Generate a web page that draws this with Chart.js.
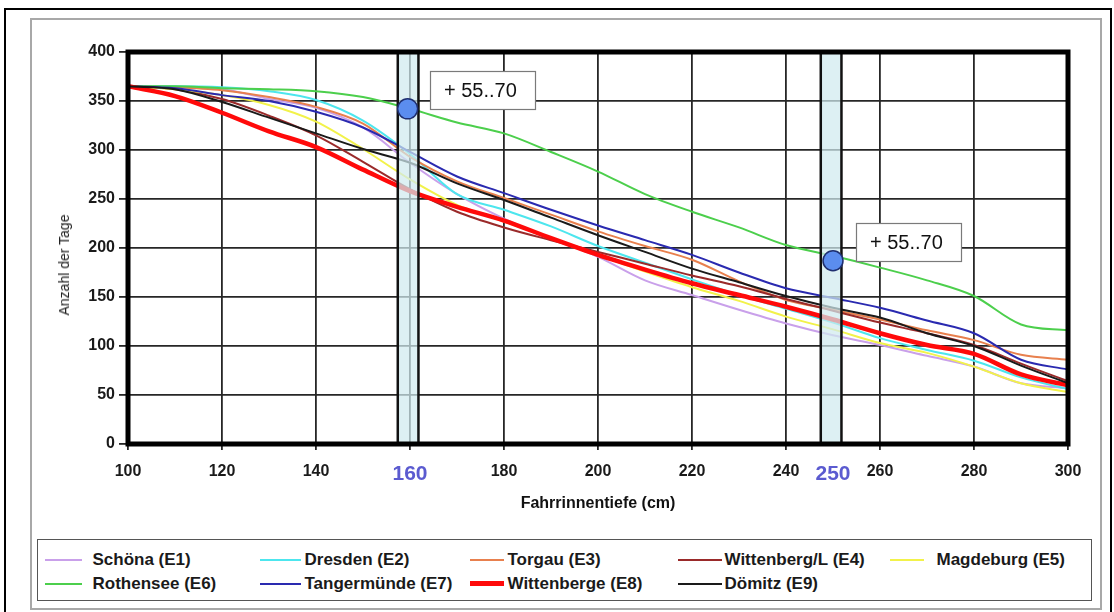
<!DOCTYPE html>
<html>
<head>
<meta charset="utf-8">
<script src="https://cdn.jsdelivr.net/npm/chart.js@4.4.1/dist/chart.umd.min.js"></script>
<style>
  html, body { margin: 0; padding: 0; background: #fff; }
  body { width: 1114px; height: 612px; position: relative; overflow: hidden; font-family: "Liberation Sans", Arial, sans-serif; }
  #outer { position: absolute; left: 4px; top: 8px; width: 1108px; height: 612px; border: 2px solid #000; box-sizing: border-box; }
  #frame { position: absolute; left: 30px; top: 18px; width: 1072px; height: 592px; border: 2px solid #a8a8a8; box-sizing: border-box; }
  #wrap { position: absolute; left: 32px; top: 20px; width: 1066px; height: 500px; }
  #ytitle { position: absolute; left: 64px; top: 265px; transform: translate(-50%, -50%) rotate(-90deg); font-size: 14px; color: #222; white-space: nowrap; }
  #legend { position: absolute; left: 37px; top: 539px; width: 1055px; height: 62px; border: 1.5px solid #555; box-sizing: border-box; }
  .item { position: absolute; height: 20px; line-height: 20px; font-weight: bold; font-size: 17px; color: #1a1a1a; white-space: nowrap; }
  .swatch { position: absolute; top: 50%; }
  .label { position: absolute; top: 0; }
</style>
</head>
<body>
<div id="outer"></div>
<div id="frame"></div>
<div id="wrap"><canvas id="chart"></canvas></div>
<div id="ytitle">Anzahl der Tage</div>
<div id="legend"></div>
<script>
// Fahrrinnentiefe (cm) on the x axis, Anzahl der Tage per station
const depthsCm = [100, 110, 120, 130, 140, 150, 160, 170, 180, 190, 200, 210, 220, 230, 240, 250, 260, 270, 280, 290, 300];

const schoena      = [365, 364, 362, 352, 343, 323, 287, 255, 230, 210, 191, 167, 152, 137, 123, 111, 101, 90, 79, 62, 57];
const dresden      = [365, 365, 364, 360, 351, 330, 296, 255, 239, 222, 202, 185, 168, 152, 138, 124, 108, 96, 85, 68, 56];
const torgau       = [365, 364, 361, 354, 344, 327, 293, 268, 251, 234, 217, 202, 188, 166, 147, 137, 127, 116, 106, 91, 86];
const wittenbergL  = [365, 362, 352, 335, 315, 288, 260, 237, 221, 208, 196, 184, 172, 161, 148, 136, 124, 113, 101, 82, 64];
const magdeburg    = [365, 362, 356, 346, 329, 301, 270, 244, 227, 210, 193, 176, 160, 146, 130, 117, 103, 93, 79, 62, 53];
const rothensee    = [365, 365, 363, 362, 360, 354, 342, 328, 317, 298, 278, 255, 237, 221, 203, 192, 180, 167, 151, 122, 116];
const tangermuende = [365, 363, 356, 350, 339, 323, 298, 273, 256, 239, 223, 208, 193, 175, 159, 149, 139, 126, 113, 86, 76];
const wittenberge  = [365, 355, 338, 319, 303, 280, 258, 242, 228, 210, 193, 178, 164, 152, 140, 127, 113, 101, 92, 71, 60];
const doemitz      = [365, 362, 349, 333, 317, 301, 287, 266, 249, 231, 213, 196, 179, 165, 151, 139, 129, 113, 100, 80, 62];

const stationNames = ["Schöna (E1)", "Dresden (E2)", "Torgau (E3)", "Wittenberg/L (E4)", "Magdeburg (E5)",
  "Rothensee (E6)", "Tangermünde (E7)", "Wittenberge (E8)", "Dömitz (E9)"];
const stationValues = [schoena, dresden, torgau, wittenbergL, magdeburg, rothensee, tangermuende, wittenberge, doemitz];

const xTicks = [100, 120, 140, 160, 180, 200, 220, 240, 250, 260, 280, 300];
const highlightTicks = [160, 250];
const bandFrom = [157.4, 247.4];
const bandTo = [161.8, 251.8];

const markerDepth = [159.5, 250];
const markerDays = [342, 187];
const markerText = ["+ 55..70", "+ 55..70"];

// styles
const lineColors = ["#c9a0ea", "#4de6ee", "#e8804e", "#9a2a2a", "#f2f24a", "#4ccf4c", "#2a2ab0", "#ff0a0a", "#1a1a1a"];
const lineWidths = [2, 2, 2, 2, 2, 2, 2, 4.5, 2];

const el = (id) => document.getElementById(id);
const isHighlight = (c) => !!(c && c.tick && highlightTicks.includes(c.tick.value));

function buildLegend() {
  const lineStarts = [45, 260, 470, 678, 890];
  const lineEnds = [82, 301, 504, 722, 924];
  const textStarts = [93, 305, 508, 725, 937];
  const rowCenters = [560, 584];
  const box = el("legend");
  stationNames.forEach((name, i) => {
    const row = i < 5 ? 0 : 1;
    const col = i < 5 ? i : i - 5;
    const item = document.createElement("div");
    item.className = "item";
    item.style.left = "0px";
    item.style.top = (rowCenters[row] - 10 - 540.5) + "px";
    const sw = document.createElement("span");
    sw.className = "swatch";
    sw.style.left = (lineStarts[col] - 38.5) + "px";
    sw.style.width = (lineEnds[col] - lineStarts[col]) + "px";
    sw.style.height = lineWidths[i] + "px";
    sw.style.marginTop = (-lineWidths[i] / 2) + "px";
    sw.style.background = lineColors[i];
    const tx = document.createElement("span");
    tx.className = "label";
    tx.style.left = (textStarts[col] - 38.5) + "px";
    tx.textContent = name;
    item.appendChild(sw);
    item.appendChild(tx);
    box.appendChild(item);
  });
}

const decorPlugin = {
  id: "decor",
  beforeDatasetDraw(chart, args) {
    if (chart.data.datasets[args.index].type !== "scatter") return;
    const { ctx, chartArea: a, scales: { x } } = chart;
    ctx.save();
    bandFrom.forEach((from, i) => {
      const l = x.getPixelForValue(from);
      const r = x.getPixelForValue(bandTo[i]);
      ctx.fillStyle = "rgba(208, 234, 238, 0.72)";
      ctx.fillRect(l, a.top, r - l, a.bottom - a.top);
      ctx.strokeStyle = "#111";
      ctx.lineWidth = 2.5;
      ctx.beginPath();
      ctx.moveTo(l, a.top); ctx.lineTo(l, a.bottom);
      ctx.moveTo(r, a.top); ctx.lineTo(r, a.bottom);
      ctx.stroke();
    });
    ctx.restore();
  },
  afterDraw(chart) {
    const { ctx, chartArea: a } = chart;
    ctx.save();
    ctx.strokeStyle = "#000";
    ctx.lineWidth = 5;
    ctx.strokeRect(a.left, a.top, a.right - a.left, a.bottom - a.top);

    const idx = chart.data.datasets.findIndex((d) => d.type === "scatter");
    const meta = chart.getDatasetMeta(idx);
    meta.data.forEach((pt, i) => {
      const bx = Math.round(pt.x + 22.5);
      const by = Math.round(pt.y - 38);
      ctx.fillStyle = "#fff";
      ctx.fillRect(bx, by, 105, 38);
      ctx.strokeStyle = "#7a7a7a";
      ctx.lineWidth = 1.2;
      ctx.strokeRect(bx + 0.5, by + 0.5, 105, 38);
      ctx.fillStyle = "#111";
      ctx.font = '20px "Liberation Sans", Arial, sans-serif';
      ctx.textBaseline = "middle";
      ctx.fillText(markerText[i], bx + 14, by + 20);
    });
    ctx.restore();
  }
};

buildLegend();

Chart.defaults.font.family = '"Liberation Sans", Arial, sans-serif';

const datasets = stationValues.map((vals, i) => ({
  type: "line",
  label: stationNames[i],
  data: vals.map((y, j) => ({ x: depthsCm[j], y })),
  borderColor: lineColors[i],
  borderWidth: lineWidths[i],
  pointRadius: 0,
  cubicInterpolationMode: "monotone",
  order: 20 - i
}));

datasets.push({
  type: "scatter",
  label: "Marker",
  data: markerDepth.map((x, i) => ({ x, y: markerDays[i] })),
  pointRadius: 10,
  backgroundColor: "#5b8def",
  borderColor: "#1f2f70",
  borderWidth: 1.5,
  order: 0
});

new Chart(el("chart"), {
  data: { datasets },
  plugins: [decorPlugin],
  options: {
    responsive: true,
    maintainAspectRatio: false,
    animation: false,
    layout: { padding: { top: 32, right: 30, left: 0, bottom: 0 } },
    plugins: { legend: { display: false }, tooltip: { enabled: false } },
    scales: {
      x: {
        type: "linear",
        min: 100,
        max: 300,
        afterBuildTicks: (axis) => { axis.ticks = xTicks.map((v) => ({ value: v })); },
        afterFit: (scale) => { scale.height = 76; },
        border: { display: false },
        grid: {
          color: (c) => (c.tick && c.tick.value === 250 ? "rgba(0,0,0,0)" : "#262626"),
          lineWidth: 1.8,
          tickLength: 6
        },
        ticks: {
          autoSkip: false,
          maxRotation: 0,
          padding: 12,
          color: (c) => (isHighlight(c) ? "#5b5bd0" : "#1a1a1a"),
          font: (c) => (isHighlight(c) ? { size: 21, weight: "bold" } : { size: 16, weight: "bold" })
        },
        title: {
          display: true,
          text: "Fahrrinnentiefe (cm)",
          color: "#111",
          font: { size: 16, weight: "bold" },
          padding: { top: 0, bottom: 7 }
        }
      },
      y: {
        min: 0,
        max: 400,
        afterFit: (scale) => { scale.width = 96; },
        border: { display: false },
        grid: { color: "#262626", lineWidth: 1.8, tickLength: 9 },
        ticks: { stepSize: 50, padding: 4, color: "#1a1a1a", font: { size: 16, weight: "bold" } }
      }
    }
  }
});
</script>
</body>
</html>
